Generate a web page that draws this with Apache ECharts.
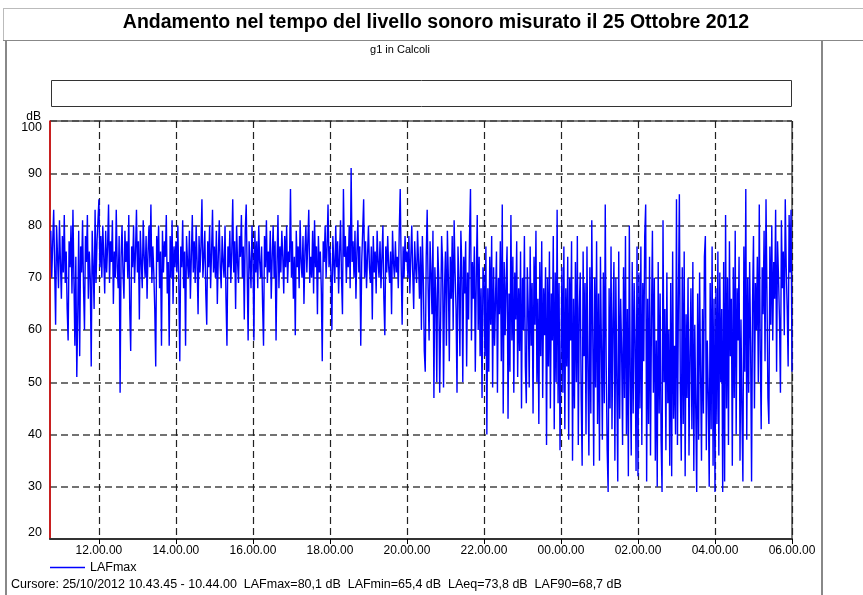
<!DOCTYPE html>
<html>
<head>
<meta charset="utf-8">
<script src="https://cdn.jsdelivr.net/npm/echarts@6/dist/echarts.min.js"></script>
<style>
  html, body { margin: 0; padding: 0; background: #fff; }
  #chart { width: 863px; height: 595px; }
</style>
</head>
<body>
<div id="chart"></div>
<script>
// LAFmax, one value every 1.5 minutes from 10.45.00
const startHour = 10.75
const stepHour = 0.025
const seg10 = [79, 70, 77, 83, 72, 61, 80, 74, 68, 81, 73, 66, 78, 71, 82, 69, 75, 64, 58, 77,
  72, 80, 67, 83, 70, 57, 74, 51, 63, 79, 55, 76, 71, 81, 68, 60, 78, 73, 82, 66,
  75, 70, 53, 79, 72, 64, 83, 69, 77, 81]
const seg12 = [85, 72, 78, 70, 80, 74, 67, 79, 71, 76, 84, 69, 77, 73, 81, 65, 75, 70, 83, 72,
  68, 78, 48, 74, 80, 71, 66, 79, 73, 77, 70, 82, 64, 56, 76, 72, 80, 69, 75, 83,
  71, 77, 62, 79, 73, 68, 81, 74, 70, 78, 66, 75, 80, 72, 84, 69, 76, 71, 64, 53,
  78, 73, 80, 68, 75, 57, 79, 71, 77, 74, 82, 67, 73, 57, 78, 70, 81, 65, 76, 72]
const seg14 = [77, 71, 80, 69, 54, 76, 72, 81, 68, 75, 57, 78, 73, 70, 79, 66, 74, 82, 71, 77,
  69, 80, 73, 63, 78, 71, 76, 85, 70, 74, 79, 67, 61, 77, 72, 80, 68, 75, 83, 71,
  76, 70, 79, 65, 74, 81, 72, 68, 78, 73, 70, 80, 66, 57, 76, 72, 79, 69, 75, 85,
  71, 77, 64, 80, 73, 69, 78, 74, 82, 70, 76, 62, 79, 84, 71, 58, 77, 73, 68, 80]
const seg16 = [74, 58, 79, 71, 77, 68, 80, 73, 70, 76, 65, 57, 78, 72, 81, 69, 75, 71, 79, 66,
  74, 80, 70, 77, 58, 73, 82, 68, 76, 71, 79, 74, 67, 78, 72, 80, 69, 75, 73, 87,
  70, 77, 66, 74, 59, 79, 72, 76, 68, 81, 73, 70, 78, 65, 75, 80, 71, 77, 83, 69,
  74, 70, 79, 67, 81, 72, 76, 63, 78, 71, 75, 68, 54, 77, 73, 80, 70, 76, 84, 72]
const seg18 = [76, 71, 60, 78, 73, 69, 80, 72, 77, 67, 75, 81, 70, 63, 87, 74, 78, 69, 76, 72,
  80, 68, 91, 73, 77, 70, 79, 66, 75, 81, 71, 76, 57, 73, 79, 85, 70, 77, 68, 74,
  80, 72, 69, 76, 62, 78, 71, 75, 67, 79, 73, 70, 77, 68, 74, 80, 66, 59, 76, 71,
  78, 72, 69, 75, 63, 79, 73, 70, 77, 71, 74, 68, 79, 87, 72, 61, 76, 70, 78, 73]
const seg20 = [75, 70, 78, 67, 74, 80, 71, 64, 77, 72, 69, 79, 73, 66, 76, 60, 78, 70, 56, 52,
  74, 83, 68, 58, 77, 71, 63, 79, 47, 72, 66, 50, 76, 70, 48, 62, 78, 73, 49, 68,
  75, 57, 79, 70, 54, 74, 66, 78, 60, 81, 71, 64, 48, 76, 69, 55, 79, 72, 50, 74,
  67, 77, 53, 71, 62, 78, 87, 58, 73, 66, 76, 52, 70, 82, 60, 74, 55, 68, 47, 72]
const seg22 = [70, 55, 76, 40, 68, 52, 74, 61, 78, 49, 72, 57, 66, 75, 48, 70, 63, 77, 54, 84,
  44, 73, 59, 69, 76, 43, 67, 52, 82, 58, 74, 48, 71, 62, 77, 51, 68, 56, 75, 45,
  70, 60, 78, 53, 46, 72, 64, 49, 76, 57, 69, 44, 74, 61, 79, 50, 66, 42, 73, 55,
  77, 47, 68, 59, 72, 38, 70, 53, 75, 45, 67, 58, 78, 41, 71, 50, 83, 46, 69, 37]
const seg00 = [37, 72, 48, 76, 41, 68, 53, 74, 39, 70, 58, 77, 35, 66, 45, 73, 50, 78, 38, 64,
  71, 47, 34, 75, 55, 69, 40, 76, 52, 36, 72, 44, 81, 60, 34, 70, 49, 77, 42, 67,
  35, 74, 57, 39, 71, 46, 84, 53, 37, 29, 68, 45, 76, 41, 62, 73, 35, 70, 50, 31,
  75, 43, 66, 56, 38, 72, 47, 78, 40, 64, 32, 80, 51, 36, 73, 44, 69, 58, 33, 76]
const seg02 = [32, 71, 45, 76, 38, 69, 54, 78, 84, 31, 66, 42, 74, 36, 62, 79, 48, 70, 35, 58,
  30, 73, 44, 67, 39, 29, 81, 50, 64, 37, 71, 46, 60, 34, 69, 32, 75, 43, 57, 40,
  85, 38, 66, 86, 49, 35, 72, 42, 75, 32, 63, 47, 70, 36, 55, 68, 41, 73, 33, 61,
  45, 29, 67, 39, 71, 52, 35, 64, 44, 74, 78, 37, 58, 48, 30, 69, 41, 76, 34, 66]
const seg04 = [29, 68, 42, 75, 36, 71, 50, 64, 29, 73, 31, 82, 45, 70, 38, 77, 55, 66, 34, 72,
  47, 79, 40, 68, 58, 74, 35, 62, 44, 31, 76, 52, 87, 39, 70, 48, 73, 57, 31, 65,
  78, 45, 69, 60, 74, 50, 84, 56, 41, 72, 63, 79, 54, 85, 67, 47, 42, 76, 61, 80,
  58, 73, 66, 83, 52, 77, 70, 62, 48, 81, 68, 75, 59, 85, 72, 64, 53, 82, 71, 83, 52]

const hourTicks = [12, 14, 16, 18, 20, 22, 24, 26, 28, 30]

const lafmax = [].concat(seg10, seg12, seg14, seg16, seg18, seg20, seg22, seg00, seg02, seg04)
const seriesData = lafmax.map((v, i) => [startHour + i * stepHour, v])

function hourLabel(h) {
  let hh = Math.round(h) % 24
  return (hh < 10 ? '0' : '') + hh + '.00.00'
}

const chart = echarts.init(document.getElementById('chart'))
const font = '"Liberation Sans", Arial, sans-serif'
const dash = [7, 4]

chart.setOption({
  animation: false,
  textStyle: { fontFamily: font },
  grid: {
    left: 50,
    right: 71,
    top: 121,
    bottom: 56,
    show: true,
    borderColor: '#000',
    borderWidth: 1
  },
  legend: {
    data: ['LAFmax'],
    left: 50,
    top: 561,
    padding: 0,
    icon: 'rect',
    itemWidth: 35,
    itemHeight: 1.5,
    itemGap: 5,
    textStyle: { fontSize: 12.5, color: '#000', fontFamily: font }
  },
  xAxis: {
    type: 'value',
    min: 10 + 43.75 / 60,
    max: 30,
    axisLine: { show: true, lineStyle: { color: '#333', width: 2 } },
    axisTick: { show: true, length: 5, customValues: hourTicks, lineStyle: { color: '#000' } },
    axisLabel: {
      customValues: hourTicks,
      formatter: hourLabel,
      color: '#000',
      fontSize: 12,
      margin: 6,
      showMinLabel: true,
      showMaxLabel: true
    },
    splitLine: { show: true, lineStyle: { color: '#222', width: 1.2, type: dash } }
  },
  yAxis: {
    type: 'value',
    min: 20,
    max: 100,
    interval: 10,
    axisLine: { show: true, lineStyle: { color: '#e00000', width: 1.5 } },
    axisTick: { show: false },
    axisLabel: {
      color: '#000',
      fontSize: 12.5,
      margin: 8,
      verticalAlignMaxLabel: 'top',
      verticalAlignMinLabel: 'bottom'
    },
    splitLine: { show: true, lineStyle: { color: '#444', width: 1.5, type: dash } }
  },
  series: [
    {
      name: 'LAFmax',
      type: 'line',
      data: seriesData,
      showSymbol: false,
      symbol: 'none',
      sampling: 'none',
      lineStyle: { color: '#0000ff', width: 1.4 },
      itemStyle: { color: '#0000ff' },
      z: 3
    }
  ],
  graphic: [
    // frame of the title area and of the panel
    { type: 'line', shape: { x1: 3, y1: 8.5, x2: 863, y2: 8.5 }, style: { stroke: '#bbb', lineWidth: 1 } },
    { type: 'line', shape: { x1: 3.5, y1: 8, x2: 3.5, y2: 40 }, style: { stroke: '#bbb', lineWidth: 1 } },
    { type: 'line', shape: { x1: 3, y1: 40.5, x2: 863, y2: 40.5 }, style: { stroke: '#888', lineWidth: 1 } },
    { type: 'line', shape: { x1: 6, y1: 40, x2: 6, y2: 595 }, style: { stroke: '#888', lineWidth: 2 } },
    { type: 'line', shape: { x1: 822, y1: 40, x2: 822, y2: 595 }, style: { stroke: '#888', lineWidth: 2 } },
    {
      type: 'text', x: 436, y: 23,
      style: { text: 'Andamento nel tempo del livello sonoro misurato il 25 Ottobre 2012', font: 'bold 19.5px ' + font, fill: '#000', textAlign: 'center', textVerticalAlign: 'middle' }
    },
    {
      type: 'text', x: 400, y: 50,
      style: { text: 'g1 in Calcoli', font: '11px ' + font, fill: '#000', textAlign: 'center', textVerticalAlign: 'middle' }
    },
    // empty legend frame above the plot
    { type: 'rect', shape: { x: 51.5, y: 80.5, width: 740, height: 26 }, style: { fill: 'none', stroke: '#333', lineWidth: 1 } },
    {
      type: 'text', x: 41, y: 117,
      style: { text: 'dB', font: '12px ' + font, fill: '#000', textAlign: 'right', textVerticalAlign: 'middle' }
    },
    {
      type: 'text', x: 11, y: 585,
      style: { text: 'Cursore: 25/10/2012 10.43.45 - 10.44.00  LAFmax=80,1 dB  LAFmin=65,4 dB  LAeq=73,8 dB  LAF90=68,7 dB', font: '12.5px ' + font, fill: '#000', textVerticalAlign: 'middle' }
    }
  ]
})
</script>
</body>
</html>
